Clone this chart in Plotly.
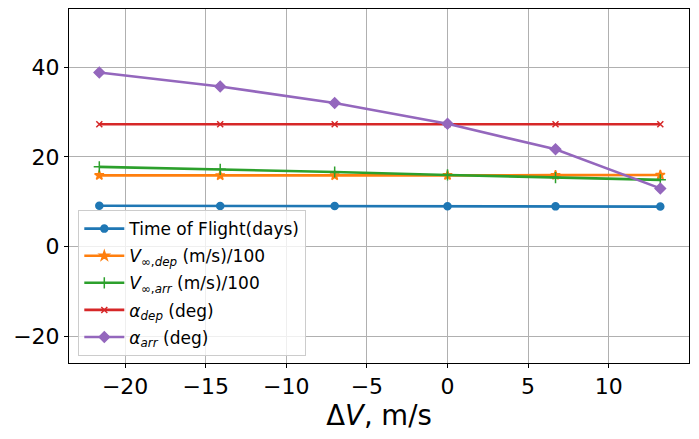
import plotly.graph_objects as go

# delta V offsets (m/s)
delta_v = [-21.6, -14.1, -7.0, 0.0, 6.7, 13.2]

time_of_flight = [9.15, 9.1, 9.1, 9.05, 9.0, 8.95]
v_inf_dep = [15.9, 15.85, 15.85, 15.9, 15.95, 16.0]
v_inf_arr = [17.8, 17.25, 16.65, 16.0, 15.4, 14.9]
alpha_dep = [27.3, 27.3, 27.3, 27.3, 27.3, 27.3]
alpha_arr = [38.8, 35.7, 32.0, 27.4, 21.7, 13.0]

series = [
    ('Time of Flight(days)', time_of_flight, '#1f77b4', 'circle', 7),
    ('<i>V</i><sub>∞,<i>dep</i></sub> (m/s)/100', v_inf_dep, '#ff7f0e', 'star', 7),
    ('<i>V</i><sub>∞,<i>arr</i></sub> (m/s)/100', v_inf_arr, '#2ca02c', 'cross-thin', 8),
    ('<i>α</i><sub><i>dep</i></sub> (deg)', alpha_dep, '#d62728', 'x-thin', 6),
    ('<i>α</i><sub><i>arr</i></sub> (deg)', alpha_arr, '#9467bd', 'diamond', 8),
]

fig = go.Figure()
for i, (name, vals, color, symbol, size) in enumerate(series):
    fig.add_trace(go.Scatter(
        x=delta_v, y=vals, name=name, mode='lines+markers',
        legendgroup=str(i),
        line=dict(color=color, width=2.6),
        marker=dict(symbol=symbol, size=size, color=color,
                    line=dict(color=color, width=1.5)),
    ))

axis_style = dict(
    showline=True, linecolor='black', linewidth=1, mirror=True,
    showgrid=True, gridcolor='#b0b0b0', gridwidth=0.8,
    ticks='outside', ticklen=4, tickcolor='black',
    zeroline=False, tickfont=dict(size=22, color='black'),
    automargin=False,
)

fig.update_xaxes(range=[-23.48, 14.98], tickvals=[-20, -15, -10, -5, 0, 5, 10],
                 ticktext=['−20', '−15', '−10', '−5', '0', '5', '10'],
                 title=dict(text='Δ<i>V</i>, m/s', font=dict(size=27.5, color='black'), standoff=4),
                 **axis_style)
fig.update_yaxes(range=[-25.88, 52.95], tickvals=[-20, 0, 20, 40],
                 ticktext=['−20', '0', '20', '40'], **axis_style)

# page body has an 8px margin, so the figure is shrunk to fit the window
fig.update_layout(
    width=691, height=431,
    margin=dict(l=61, r=10, t=1, b=76),
    plot_bgcolor='white', paper_bgcolor='white',
    font=dict(family='DejaVu Sans', color='black'),
    legend=dict(x=0.015, y=0.432, xanchor='left', yanchor='top',
                bgcolor='rgba(255,255,255,0.8)', bordercolor='#cccccc', borderwidth=1,
                font=dict(size=17), itemwidth=40, tracegroupgap=2),
)

fig.write_html("out.html")
